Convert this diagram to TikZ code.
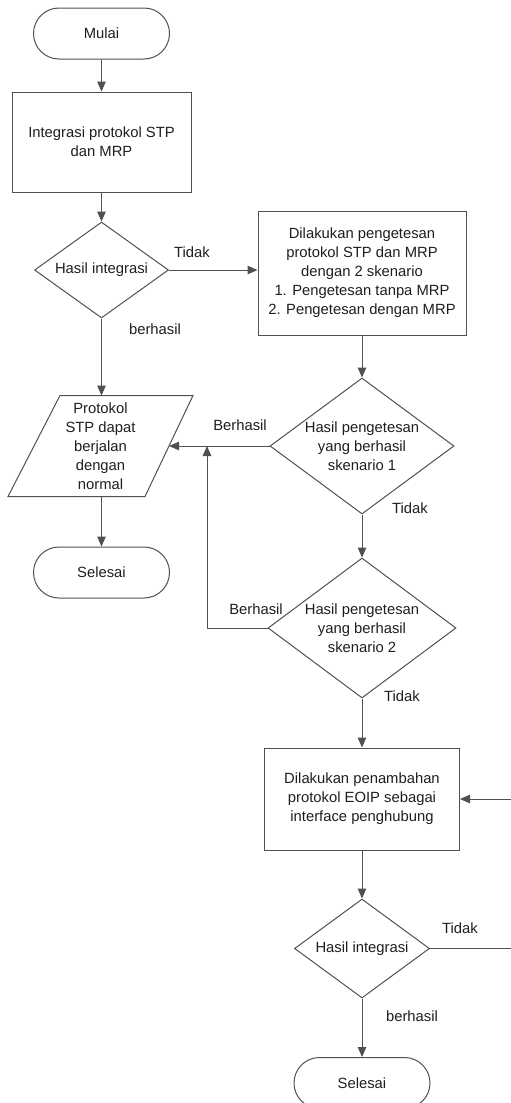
\documentclass[tikz,border=0pt]{standalone}
\usepackage{fontspec}
\setmainfont{Liberation Sans}
\usetikzlibrary{shapes.geometric,shapes.misc,arrows.meta}
\definecolor{ln}{RGB}{80,80,80}
\definecolor{tx}{RGB}{30,30,30}
\begin{document}
\begin{tikzpicture}[x=1pt,y=-1pt,
  every node/.style={font=\fontsize{14.8}{19}\selectfont, text=tx},
  term/.style={rounded rectangle, draw=ln, line width=1pt, minimum width=136pt, minimum height=51pt, inner sep=0pt},
  proc/.style={rectangle, draw=ln, line width=1pt, inner sep=0pt, align=center},
  dec/.style={diamond, draw=ln, line width=1pt, inner sep=0pt},
  lbl/.style={inner sep=0pt, align=center},
  arr/.style={draw=ln, line width=1pt, -{Triangle[length=10pt,width=8.5pt]}},
  shp/.style={draw=ln, line width=1pt}]
\useasboundingbox (0,0) rectangle (511,1103);
\clip (0,0) rectangle (511,1103);
% left column
\node[term] (mulai) at (101.5,33.5) {Mulai};
\node[proc, minimum width=179pt, minimum height=100pt] (p1) at (101.5,142) {Integrasi protokol STP\\dan MRP};
\node[dec, minimum width=134pt, minimum height=96pt] (d1) at (101.5,270) {};
\node[lbl] (d1t) at (d1.center) {Hasil integrasi};
% parallelogram
\coordinate (pa1) at (60,395.5);
\coordinate (pa2) at (193,395.5);
\coordinate (pa3) at (145,496.5);
\coordinate (pa4) at (8,496.5);
\draw[shp] (pa1) -- (pa2) -- (pa3) -- (pa4) -- cycle;
\coordinate (paT) at (101.5,395.5);
\coordinate (paB) at (101.5,496.5);
\coordinate (paR) at (169,446);
\node[lbl] (parat) at (100.5,446) {Protokol\\STP dapat\\berjalan\\dengan\\normal};
\node[term] (sel1) at (101.5,572.5) {Selesai};
% right column
\node[proc, minimum width=208pt, minimum height=124pt] (p2) at (362,273) {Dilakukan pengetesan\\protokol STP dan MRP\\dengan 2 skenario\\1. Pengetesan tanpa MRP\\2. Pengetesan dengan MRP};
\node[dec, minimum width=184pt, minimum height=136pt] (d2) at (362,446) {};
\node[lbl] (d2t) at (d2.center) {Hasil pengetesan\\yang berhasil\\skenario 1};
\node[dec, minimum width=188pt, minimum height=140pt] (d3) at (362,628) {};
\node[lbl] (d3t) at (d3.center) {Hasil pengetesan\\yang berhasil\\skenario 2};
\node[proc, minimum width=195pt, minimum height=102pt] (p3) at (362,799) {Dilakukan penambahan\\protokol EOIP sebagai\\interface penghubung};
\node[dec, minimum width=135pt, minimum height=99pt] (d4) at (362,948.5) {};
\node[lbl] (d4t) at (d4.center) {Hasil integrasi};
\node[term] (sel2) at (362,1083) {Selesai};
% labels
\node[lbl] (l1) at (192,252) {Tidak};
\node[lbl] (l2) at (155,329) {berhasil};
\node[lbl] (l3) at (240,425) {Berhasil};
\node[lbl] (l4) at (410,508) {Tidak};
\node[lbl] (l5) at (256,609) {Berhasil};
\node[lbl] (l6) at (402,696) {Tidak};
\node[lbl] (l7) at (460,928) {Tidak};
\node[lbl] (l8) at (412,1016) {berhasil};
% coordinates
\coordinate (j1) at (207,446);
\coordinate (r1) at (513,948.5);
\coordinate (r2) at (513,799);
% connectors
\draw[arr] (mulai.south) -- (p1.north);
\draw[arr] (p1.south) -- (d1.north);
\draw[arr] (d1.east) -- (p2.west |- d1.east);
\draw[arr] (d1.south) -- (paT);
\draw[arr] (paB) -- (sel1.north);
\draw[arr] (p2.south) -- (d2.north);
\draw[arr] (d2.west) -- (paR);
\draw[arr] (d2.south) -- (d3.north);
\draw[arr] (d3.west) -| (j1);
\draw[arr] (d3.south) -- (p3.north);
\draw[arr] (p3.south) -- (d4.north);
\draw[arr] (d4.south) -- (sel2.north);
\draw[arr] (d4.east) -- (r1) -- (r2) -- (p3.east);
\end{tikzpicture}
\end{document}
